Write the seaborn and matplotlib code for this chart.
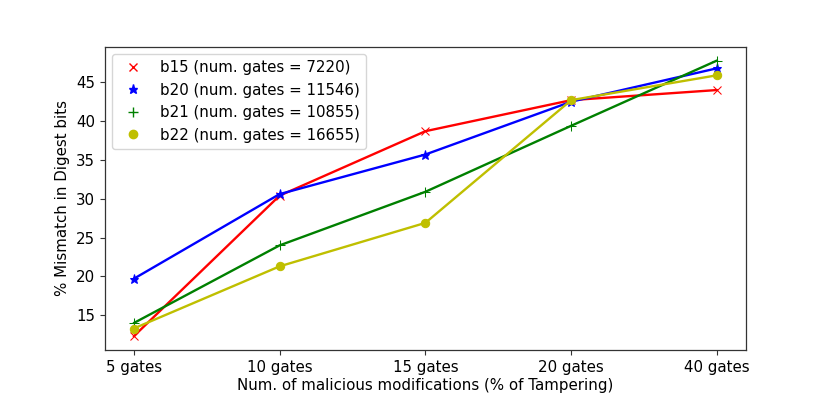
import seaborn as sns
import matplotlib.pyplot as plt
import pandas as pd
from matplotlib.lines import Line2D

# Data
categories = ["5 gates", "10 gates", "15 gates", "20 gates", "40 gates"]
b15 = [12.3, 30.4, 38.7, 42.7, 44.0]
b20 = [19.7, 30.6, 35.7, 42.5, 46.8]
b21 = [14.0, 24.0, 30.9, 39.4, 47.8]
b22 = [13.3, 21.3, 26.9, 42.7, 45.9]
labels = ["b15 (num. gates = 7220)", "b20 (num. gates = 11546)",
          "b21 (num. gates = 10855)", "b22 (num. gates = 16655)"]

colors = ["red", "blue", "green", "y"]
markers = ["x", "*", "+", "o"]
msizes = [6, 6.5, 7, 6]

sns.set_style("ticks")
plt.rcParams['font.family'] = ['DejaVu Sans']
plt.rcParams['text.color'] = 'black'
plt.rcParams['axes.labelcolor'] = 'black'
plt.rcParams['xtick.labelcolor'] = 'black'
plt.rcParams['ytick.labelcolor'] = 'black'

fig, ax = plt.subplots(figsize=(8.3, 3.96), dpi=100)
fig.subplots_adjust(left=0.126, right=0.899, top=0.882, bottom=0.116)

handles = []
for series, lab, c, m, ms in zip([b15, b20, b21, b22], labels, colors, markers, msizes):
    df = pd.DataFrame({'x': categories, 'y': series})
    sns.lineplot(x='x', y='y', data=df, color=c, marker=m, markersize=ms,
                 markeredgecolor=c, linewidth=1.7, ax=ax, legend=False, sort=False)
    handles.append(Line2D([], [], color=c, marker=m, markersize=ms,
                          markeredgecolor=c, linestyle='none', label=lab))

for s in ax.spines.values():
    s.set_color('#333333')
    s.set_linewidth(0.9)

ax.set_yticks([15, 20, 25, 30, 35, 40, 45])
ax.tick_params(labelsize=10.8, color='#333333', length=3.5, width=0.8)
ax.set_xlabel("Num. of malicious modifications (% of Tampering)", fontsize=10.8, labelpad=2)
ax.set_ylabel("% Mismatch in Digest bits", fontsize=10.8)

ax.legend(handles=handles, loc='upper left', fontsize=10.8)

plt.savefig("out.png", dpi=100)
